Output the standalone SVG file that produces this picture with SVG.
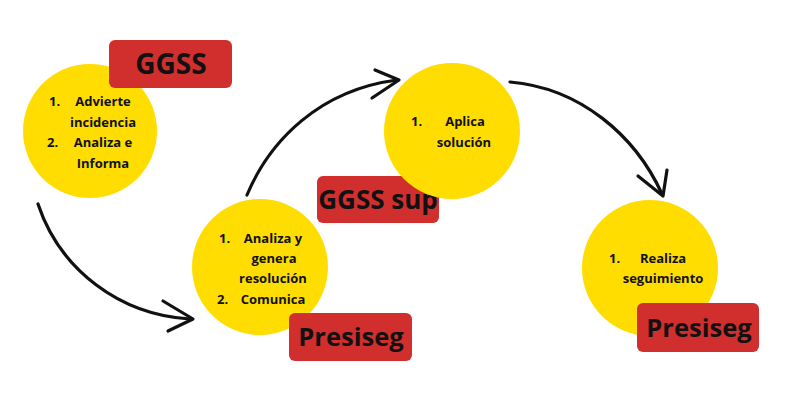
<svg xmlns="http://www.w3.org/2000/svg" width="800" height="400" viewBox="0 0 800 400">
<style>
.circ{fill:#FFDD00}
.tag{fill:#D12E2E}
.t{font-family:"Open Sans","Liberation Sans",sans-serif;font-weight:bold;font-size:13px;fill:#111}
.c{text-anchor:middle}
.lbl{font-family:"Open Sans","Liberation Sans",sans-serif;font-weight:bold;fill:#111;text-anchor:middle}
.arr{fill:none;stroke:#111;stroke-width:3.2;stroke-linecap:round;stroke-linejoin:round}
</style>
<rect width="800" height="400" fill="#fff"/>
<g id="connectors">
<path class="arr" d="M38,204 C60,270 120,315 190,319"/>
<path class="arr" d="M163,301 L193,319 L168,331"/>
<path class="arr" d="M247,195 C270,140 320,90 397,80"/>
<path class="arr" d="M375,70 L399,80 L372,98"/>
<path class="arr" d="M510,82 C580,88 635,135 662,194"/>
<path class="arr" d="M638,176 L663,196 L667,170"/>
</g>
<g id="node1">
<circle class="circ" cx="90" cy="131" r="67"/>
<text class="t" x="49" y="106">1.</text>
<text class="t c" x="103" y="106">Advierte</text>
<text class="t c" x="103" y="127">incidencia</text>
<text class="t" x="47" y="147">2.</text>
<text class="t c" x="103" y="147">Analiza e</text>
<text class="t c" x="103" y="168">Informa</text>
</g>
<g id="tag-ggss">
<rect class="tag" x="109" y="40" width="123" height="48" rx="6"/>
<text class="lbl" x="171" y="74" font-size="28">GGSS</text>
</g>
<g id="node2">
<circle class="circ" cx="260" cy="267" r="68"/>
<text class="t" x="219" y="243">1.</text>
<text class="t c" x="273" y="243">Analiza y</text>
<text class="t c" x="274" y="263">genera</text>
<text class="t c" x="273" y="283">resolución</text>
<text class="t" x="217" y="304">2.</text>
<text class="t c" x="273" y="304">Comunica</text>
</g>
<g id="tag-ggss-sup">
<rect class="tag" x="317" y="176" width="122" height="47" rx="6"/>
<text class="lbl" x="378" y="209" font-size="26">GGSS sup</text>
</g>
<g id="tag-presiseg1">
<rect class="tag" x="289" y="313" width="123" height="48" rx="6"/>
<text class="lbl" x="351" y="346" font-size="25.5">Presiseg</text>
</g>
<g id="node3">
<circle class="circ" cx="452" cy="131" r="68"/>
<text class="t" x="411" y="126">1.</text>
<text class="t c" x="465" y="126">Aplica</text>
<text class="t c" x="464" y="147">solución</text>
</g>
<g id="node4">
<circle class="circ" cx="650" cy="268" r="68"/>
<text class="t" x="609" y="263">1.</text>
<text class="t c" x="663" y="263">Realiza</text>
<text class="t c" x="663" y="283">seguimiento</text>
</g>
<g id="tag-presiseg2">
<rect class="tag" x="637" y="303" width="122" height="49" rx="6"/>
<text class="lbl" x="699" y="337" font-size="25.5">Presiseg</text>
</g>
</svg>
